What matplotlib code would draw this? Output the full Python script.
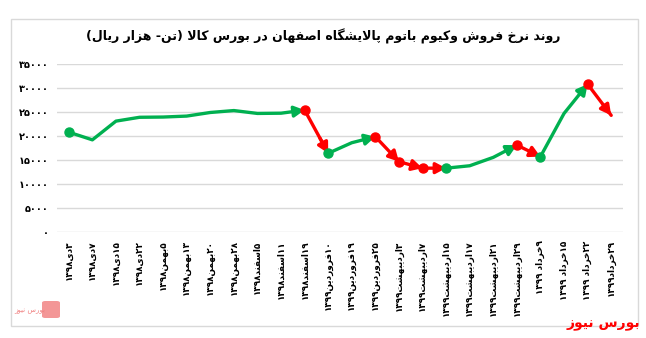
import matplotlib
matplotlib.use('Agg')
import matplotlib.pyplot as plt
from matplotlib.patches import Rectangle, FancyBboxPatch

# --- data ---
dates = ['۳دی۱۳۹۸', '۷دی۱۳۹۸', '۱۵دی۱۳۹۸', '۲۲دی۱۳۹۸', '۵بهمن۱۳۹۸', '۱۳بهمن۱۳۹۸',
         '۲۰بهمن۱۳۹۸', '۲۸بهمن۱۳۹۸', '۵اسفند۱۳۹۸', '۱۱اسفند۱۳۹۸', '۱۹اسفند۱۳۹۸',
         '۱۰فروردین۱۳۹۹', '۱۹فروردین۱۳۹۹', '۲۵فروردین۱۳۹۹', '۳اردیبهشت۱۳۹۹',
         '۷اردیبهشت۱۳۹۹', '۱۵اردیبهشت۱۳۹۹', '۱۷اردیبهشت۱۳۹۹', '۲۱اردیبهشت۱۳۹۹',
         '۲۹اردیبهشت۱۳۹۹', '۹خرداد ۱۳۹۹', '۱۵خرداد ۱۳۹۹', '۲۲خرداد ۱۳۹۹', '۲۹خرداد۱۳۹۹']
prices = [20800, 19200, 23100, 23900, 23950, 24150, 24900, 25300, 24700, 24750, 25400,
          16400, 18600, 19850, 14650, 13300, 13300, 13800, 15550, 18100, 15700,
          24700, 30800, 24300]
# trend phases: (start index, end index, up?)
phases = [(0, 10, True), (10, 11, False), (11, 13, True), (13, 16, False),
          (16, 19, True), (19, 20, False), (20, 22, True), (22, 23, False)]
dot_idx = [0, 10, 11, 13, 14, 15, 16, 19, 20, 22]
arrow_idx = [10, 11, 13, 14, 15, 16, 19, 20, 22, 23]
yticks = [0, 5000, 10000, 15000, 20000, 25000, 30000, 35000]

title = 'روند نرخ فروش وکیوم باتوم پالایشگاه اصفهان در بورس کالا (تن- هزار ریال)'
brand = 'بورس نیوز'

GREEN = '#00B050'
RED = '#FF0000'

# --- minimal persian shaping (matplotlib has no bidi / joining) ---
FORMS = {
    'ا': 'ﺍﺎ', 'د': 'ﺩﺪ', 'ذ': 'ﺫﺬ', 'ر': 'ﺭﺮ', 'ز': 'ﺯﺰ', 'و': 'ﻭﻮ',
    'ب': 'ﺏﺐﺑﺒ', 'پ': 'ﭖﭗﭘﭙ', 'ت': 'ﺕﺖﺗﺘ', 'خ': 'ﺥﺦﺧﺨ', 'ح': 'ﺡﺢﺣﺤ',
    'س': 'ﺱﺲﺳﺴ', 'ش': 'ﺵﺶﺷﺸ', 'ص': 'ﺹﺺﺻﺼ', 'ف': 'ﻑﻒﻓﻔ', 'ک': 'ﮎﮏﮐﮑ',
    'گ': 'ﮒﮓﮔﮕ', 'ل': 'ﻝﻞﻟﻠ', 'م': 'ﻡﻢﻣﻤ', 'ن': 'ﻥﻦﻧﻨ', 'ه': 'ﻩﻪﻫﻬ',
    'ی': 'ﯼﯽﯾﯿ',
}
DIGITS = set('0123456789۰۱۲۳۴۵۶۷۸۹')
MIRROR = {'(': ')', ')': '('}


def shape(s):
    out = []
    i = 0
    while i < len(s):
        c = s[i]
        prev = s[i - 1] if i > 0 else ''
        prev_joins = prev in FORMS and len(FORMS[prev]) == 4
        if c == 'ل' and i + 1 < len(s) and s[i + 1] == 'ا':
            out.append('ﻼ' if prev_joins else 'ﻻ')
            i += 2
            continue
        if c in FORMS:
            f = FORMS[c]
            nxt = s[i + 1] if i + 1 < len(s) else ''
            next_joins = len(f) == 4 and nxt in FORMS
            if prev_joins and next_joins:
                out.append(f[3])
            elif prev_joins:
                out.append(f[1])
            elif next_joins:
                out.append(f[2])
            else:
                out.append(f[0])
        else:
            out.append(c)
        i += 1
    return ''.join(out)


def fa(s):
    s = shape(s)
    runs = []
    for c in s:
        if c in DIGITS and runs and runs[-1][0] in DIGITS:
            runs[-1] += c
        else:
            runs.append(c)
    return ''.join(MIRROR.get(r, r) for r in reversed(runs))


plt.rcParams['font.family'] = ['DejaVu Sans']

fig = plt.figure(figsize=(6.46, 3.38), dpi=100)
ax = fig.add_axes([57 / 646, 1 - 232 / 338, 566 / 646, 168 / 338])

x = list(range(len(prices)))
for a, b, up in phases:
    ax.plot(x[a:b + 1], prices[a:b + 1], color=GREEN if up else RED,
            lw=2.4, solid_capstyle='round', solid_joinstyle='round', zorder=3)

for j in arrow_idx:
    up = [p[2] for p in phases if p[0] < j <= p[1]][0]
    col = GREEN if up else RED
    ax.annotate('', xy=(j, prices[j]), xytext=(j - 0.35, prices[j] - 0.35 * (prices[j] - prices[j - 1])),
                arrowprops=dict(arrowstyle='-|>,head_length=0.6,head_width=0.32', color=col, lw=2.4,
                                shrinkA=0, shrinkB=0),
                zorder=4)

for j in dot_idx:
    up_start = [p[2] for p in phases if p[0] == j]
    col = GREEN if (up_start and up_start[0]) else RED
    ax.plot(x[j], prices[j], 'o', color=col, ms=6.5, zorder=5)

ax.set_xlim(-0.5, len(prices) - 0.5)
ax.set_ylim(0, 35000)
ax.set_yticks(yticks)
ax.set_yticklabels([fa(str(v).translate(str.maketrans('0123456789', '۰۱۲۳۴۵۶۷۸۹'))) for v in yticks],
                   fontsize=7, fontweight='bold')
ax.set_xticks(x)
ax.set_xticklabels([fa(d) for d in dates], rotation=90, fontsize=6.4, fontweight='bold', va='top')
ax.grid(axis='y', color='#D9D9D9', lw=1)
ax.set_axisbelow(True)
ax.tick_params(length=0, pad=6)
for sp in ax.spines.values():
    sp.set_visible(False)

fig.text(0.5, 1 - 36 / 338, fa(title), ha='center', va='center', fontsize=9, fontweight='bold')

# frame
fig.patches.append(Rectangle((11 / 646, 1 - 326 / 338), 627 / 646, 307 / 338, transform=fig.transFigure,
                             fill=False, edgecolor='#D9D9D9', lw=1))
# watermark logo bottom-left
fig.patches.append(FancyBboxPatch((42 / 646, 1 - 318 / 338), 18 / 646, 17 / 338, transform=fig.transFigure,
                                  boxstyle='round,pad=0,rounding_size=0.005', facecolor='#F28B8B',
                                  edgecolor='none', alpha=0.9))
fig.text(30 / 646, 1 - 311 / 338, fa(brand), ha='center', va='center', fontsize=5, color='#F08080')
# brand text bottom-right
fig.text(640 / 646, 1 - 324 / 338, fa(brand), ha='right', va='center', fontsize=10, fontweight='bold',
         color=RED)

fig.savefig('out.png', dpi=100)
